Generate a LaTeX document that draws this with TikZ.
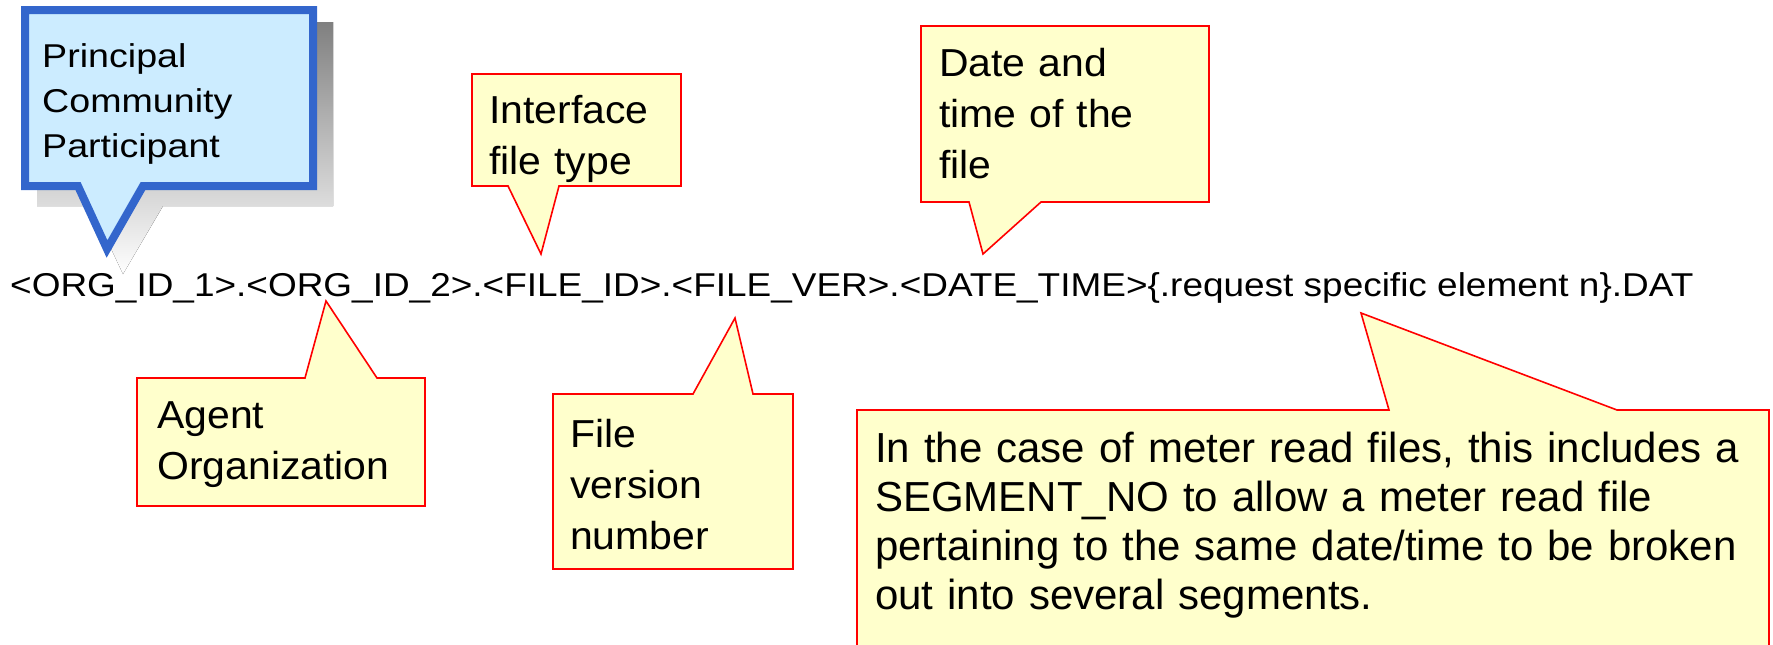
\documentclass[tikz,border=0pt]{standalone}
\usepackage{fontspec}
\setmainfont{Liberation Sans}
\newfontfamily\lineface[FakeStretch=1.12]{Liberation Sans}
\newfontfamily\blueface[FakeStretch=1.14]{Liberation Sans}
\newfontfamily\noteface[FakeStretch=1.05]{Liberation Sans}
\definecolor{calloutblue}{HTML}{3366CC}
\definecolor{bluefill}{HTML}{CCECFF}
\definecolor{notefill}{HTML}{FFFFCC}
\definecolor{shade}{HTML}{BFBFBF}
\begin{document}
\begin{tikzpicture}[x=1pt,y=-1pt,
  note/.style={draw=red, fill=notefill, line width=1.6pt, line join=miter},
  bluenote/.style={draw=calloutblue, fill=bluefill, line width=8pt, line join=miter},
  txt/.style={anchor=base west, inner sep=0pt, align=left, text width=#1},
  smallnote/.style={txt=300pt, font=\fontsize{39}{51}\selectfont\noteface},
]
\useasboundingbox (0,0) rectangle (1773,645);

% file name pattern
\node[anchor=base west, inner sep=0pt, font=\fontsize{33}{40}\selectfont\lineface]
  (fname) at (10,296)
  {<ORG\_ID\_1>.<ORG\_ID\_2>.<FILE\_ID>.<FILE\_VER>.<DATE\_TIME>\{.request specific element n\}.DAT};

% principal participant callout with its drop shadow
\fill[shade] (37,22) -- (333,22) -- (333,206) -- (163,206) -- (123,274)
  -- (91,206) -- (37,206) -- cycle;
\draw[bluenote] (25,10) -- (313,10) -- (313,186) -- (143,186) -- (107,249)
  -- (78,186) -- (25,186) -- cycle;
\node[txt=280pt, font=\fontsize{33}{45}\selectfont\blueface] (pcp) at (42,67)
  {Principal\\Community\\Participant};

% interface file type
\draw[note] (472,74) -- (681,74) -- (681,186) -- (559,186) -- (541,254)
  -- (508,186) -- (472,186) -- cycle;
\node[smallnote] (ftype) at (489,123) {Interface\\file type};

% date and time
\draw[note] (921,26) -- (1209,26) -- (1209,202) -- (1041,202) -- (983,254)
  -- (969,202) -- (921,202) -- cycle;
\node[smallnote] (dtime) at (939,76) {Date and\\time of the\\file};

% agent organization
\draw[note] (137,378) -- (305,378) -- (326,301) -- (377,378) -- (425,378)
  -- (425,506) -- (137,506) -- cycle;
\node[smallnote] (agent) at (157,428) {Agent\\Organization};

% file version number
\draw[note] (553,394) -- (693,394) -- (735,318) -- (753,394) -- (793,394)
  -- (793,569) -- (553,569) -- cycle;
\node[smallnote] (fver) at (570,447) {File\\version\\number};

% request specific element
\draw[note] (857,660) -- (857,410) -- (1389,410) -- (1361,313) -- (1617,410)
  -- (1769,410) -- (1769,660) -- cycle;
\node[txt=900pt, font=\fontsize{42}{49}\selectfont] (segnote) at (875,462)
  {In the case of meter read files, this includes a\\SEGMENT\_NO to allow a meter read file\\pertaining to the same date/time to be broken\\out into several segments.};
\end{tikzpicture}
\end{document}
